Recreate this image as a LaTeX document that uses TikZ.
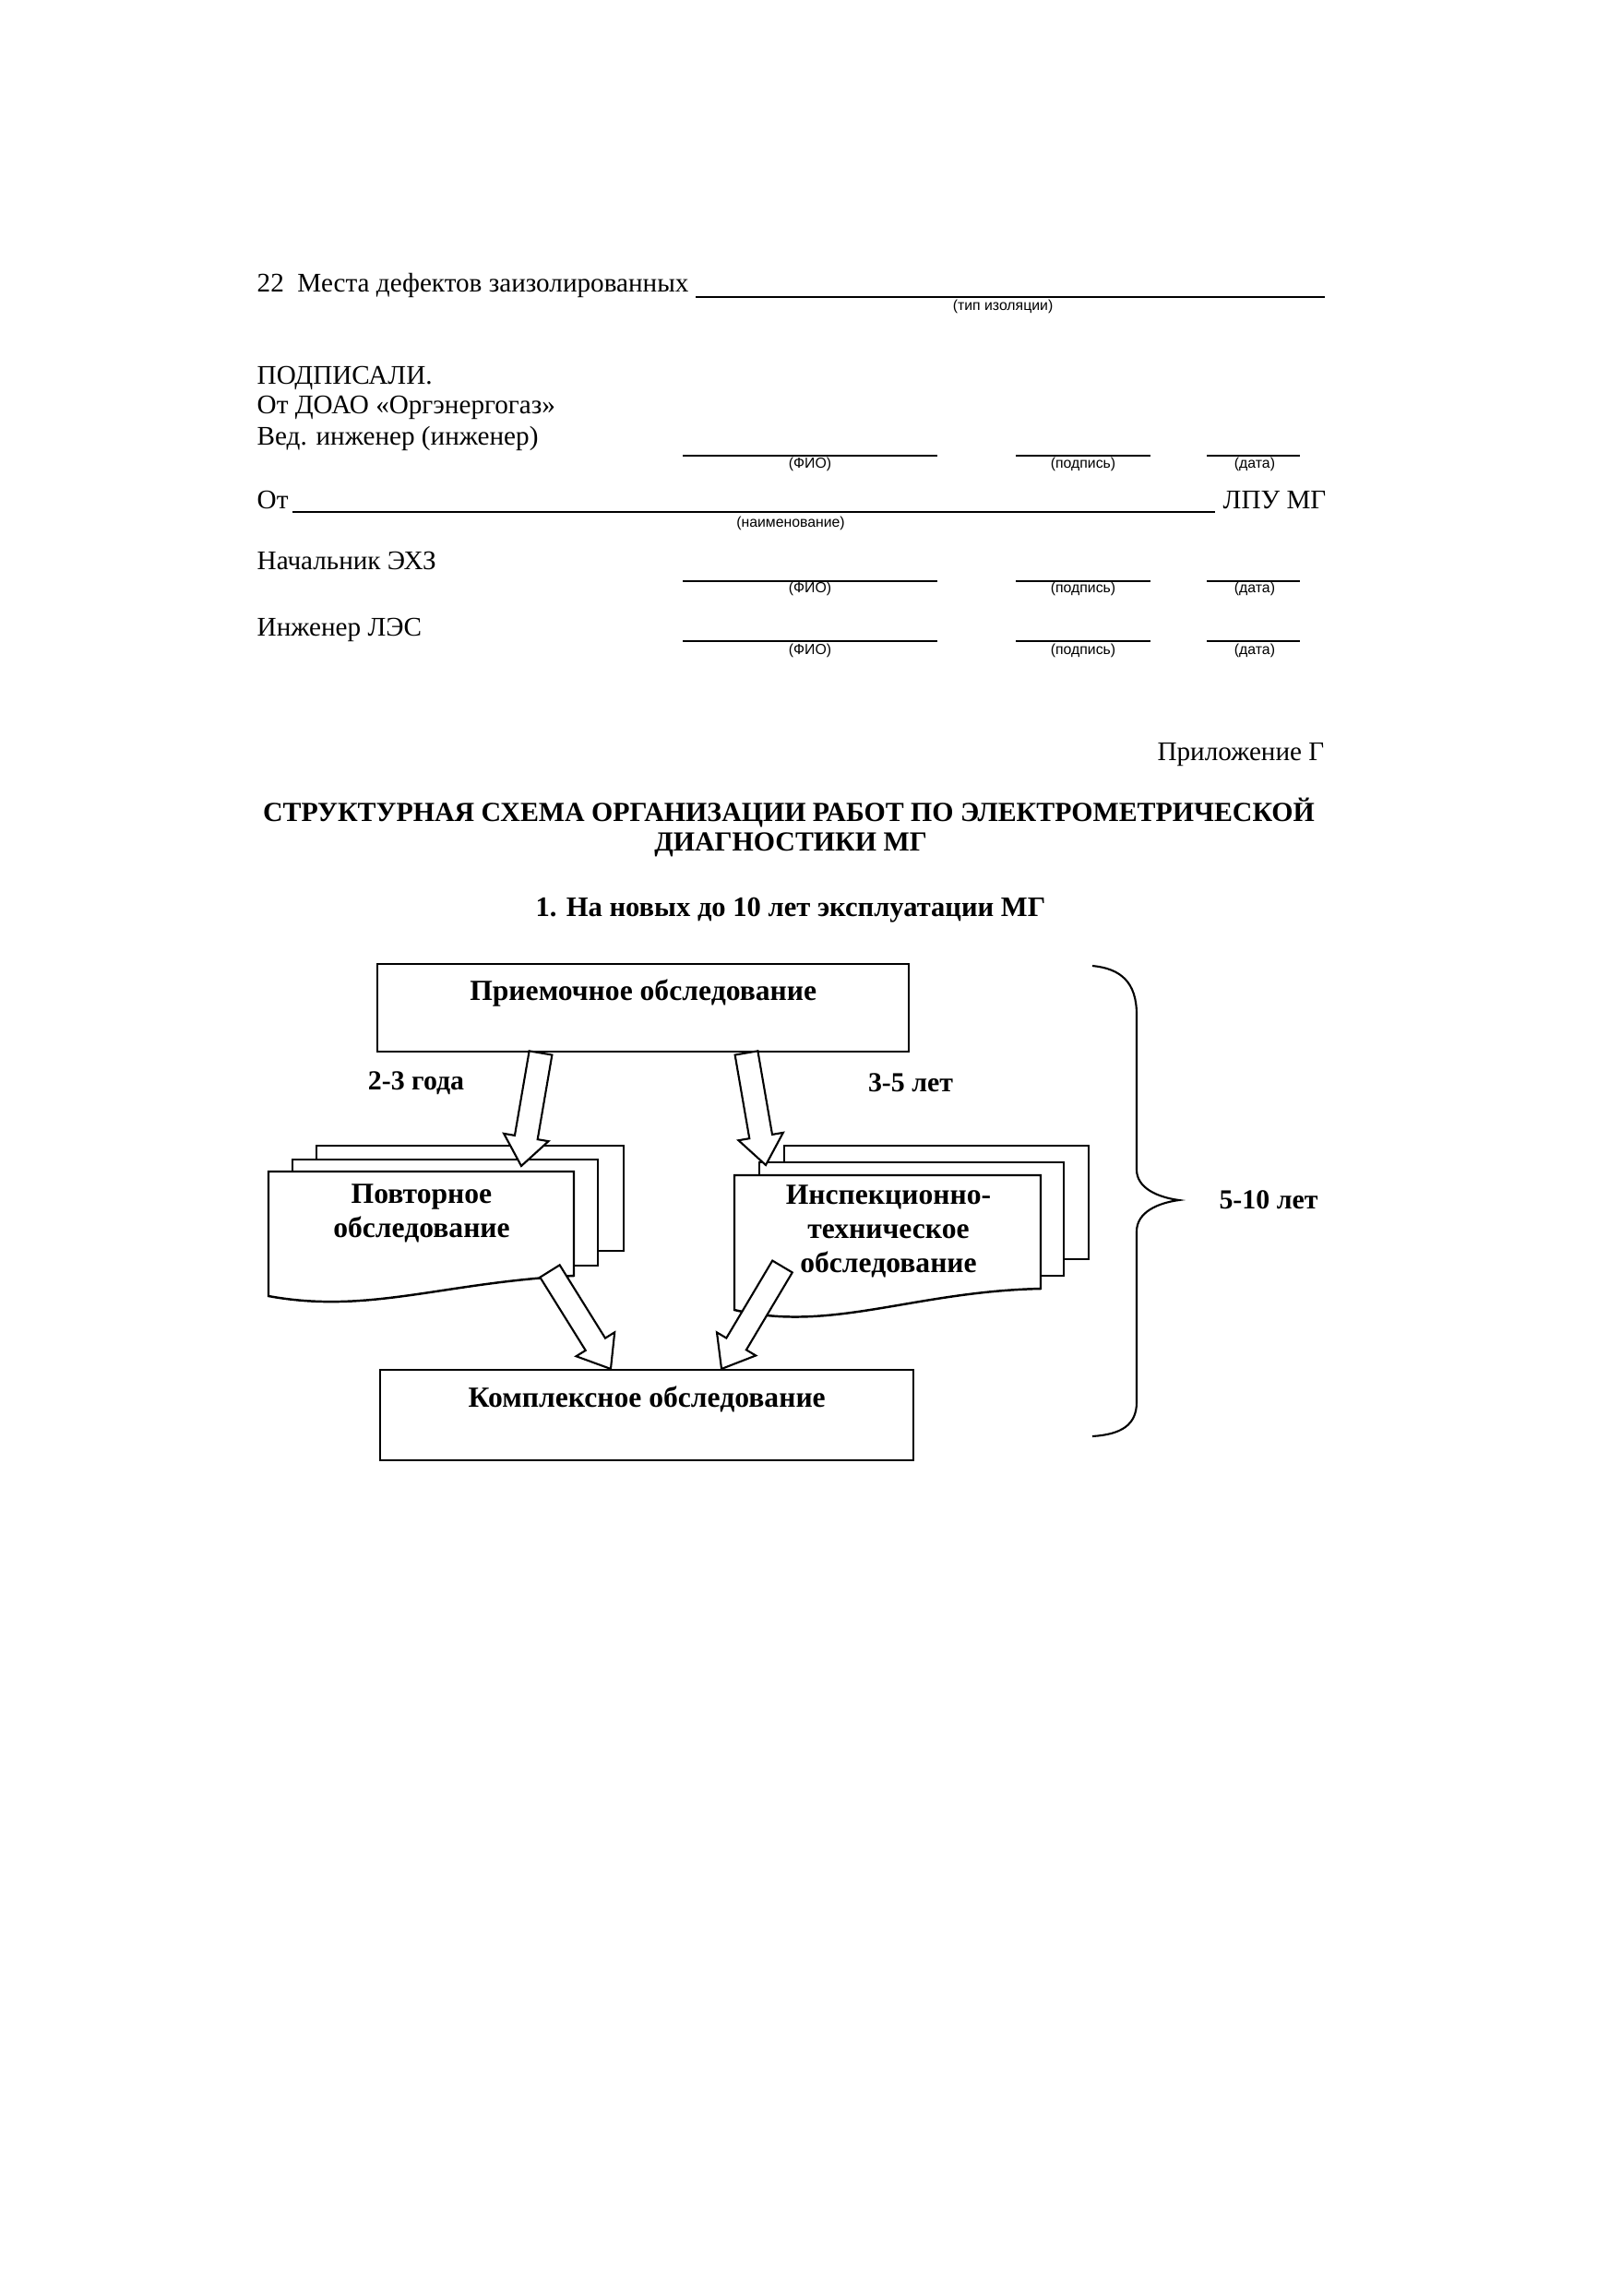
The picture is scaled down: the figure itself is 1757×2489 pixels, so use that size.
\documentclass[tikz,border=0pt]{standalone}
\usepackage{fontspec}
\setmainfont{Liberation Serif}
\setsansfont{Liberation Sans}
\usetikzlibrary{calc,shapes.arrows}

\newcommand*{\blockarrow}[3]{%
	\path let \p1=(#2), \p2=(#3),
		\n1={atan2(\y2-\y1,\x2-\x1)},
		\n2={veclen(\x2-\x1,\y2-\y1)}
	in node[fatarrow,minimum height=\n2,rotate=\n1,anchor=tail] (#1) at (\p1) {};%
}

\begin{document}
\begin{tikzpicture}
[
	x=0.1mm, y=-0.1mm,
	txt/.style={anchor=base west,inner sep=0pt,font=\fontsize{8.3}{10}\selectfont},
	tiny/.style={inner sep=0pt,font=\sffamily\fontsize{4.5}{5}\selectfont},
	head/.style={anchor=base,inner sep=0pt,font=\bfseries\fontsize{8.5}{10}\selectfont},
	bigbox/.style={draw,line width=0.7pt,fill=white,inner sep=0pt,anchor=north west,font=\bfseries\fontsize{9}{10}\selectfont},
	doc/.style={draw,line width=0.7pt,fill=white},
	doctext/.style={align=center,inner sep=0pt,font=\bfseries\fontsize{9}{10.5}\selectfont},
	fatarrow/.style={single arrow,draw,fill=white,line width=0.6pt,inner xsep=0pt,inner ysep=1.15mm,outer sep=0pt,single arrow head extend=1.2mm,single arrow tip angle=76},
	sig/.style={line width=0.5pt}
]

	% page
	\path[fill=white] (0,0) rectangle (1757,2489);

	% item 22
	\node[txt] (item) at (278,316) {22\enspace Места дефектов заизолированных};
	\draw[sig] (754,322) -- (1436,322);
	\node[tiny] (insul) at (1087,332) {(тип изоляции)};

	% signatures
	\node[txt] (signed) at (278,416) {ПОДПИСАЛИ.};
	\node[txt] (org) at (278,448) {От ДОАО «Оргэнергогаз»};
	\node[txt] (eng) at (278,482) {Вед. инженер (инженер)};
	\draw[sig] (740,494) -- (1016,494);
	\draw[sig] (1101,494) -- (1247,494);
	\draw[sig] (1308,494) -- (1409,494);
	\node[tiny] (fio1) at (878,503) {(ФИО)};
	\node[tiny] (sign1) at (1174,503) {(подпись)};
	\node[tiny] (date1) at (1360,503) {(дата)};

	\node[txt] (from) at (278,551) {От};
	\draw[sig] (317,555) -- (1317,555);
	\node[txt] (lpu) at (1325,551) {ЛПУ МГ};
	\node[tiny] (name) at (857,567) {(наименование)};

	\node[txt] (chief) at (278,617) {Начальник ЭХЗ};
	\draw[sig] (740,630) -- (1016,630);
	\draw[sig] (1101,630) -- (1247,630);
	\draw[sig] (1308,630) -- (1409,630);
	\node[tiny] (fio2) at (878,638) {(ФИО)};
	\node[tiny] (sign2) at (1174,638) {(подпись)};
	\node[tiny] (date2) at (1360,638) {(дата)};

	\node[txt] (les) at (278,689) {Инженер ЛЭС};
	\draw[sig] (740,695) -- (1016,695);
	\draw[sig] (1101,695) -- (1247,695);
	\draw[sig] (1308,695) -- (1409,695);
	\node[tiny] (fio3) at (878,705) {(ФИО)};
	\node[tiny] (sign3) at (1174,705) {(подпись)};
	\node[tiny] (date3) at (1360,705) {(дата)};

	% appendix heading
	\node[txt,anchor=base east] (app) at (1436,824) {Приложение Г};
	\node[head] (title1) at (855,890) {СТРУКТУРНАЯ СХЕМА ОРГАНИЗАЦИИ РАБОТ ПО ЭЛЕКТРОМЕТРИЧЕСКОЙ};
	\node[head] (title2) at (857,922) {ДИАГНОСТИКИ МГ};
	\node[head,font=\bfseries\fontsize{8.7}{10}\selectfont] (sub) at (857,993) {1. На новых до 10 лет эксплуатации МГ};

	% boxes
	\node[bigbox,minimum width=57.6mm,text height=3.9mm,text depth=5.6mm] (accept) at (408,1044) {Приемочное обследование};
	\node[bigbox,minimum width=57.8mm,text height=4mm,text depth=5.8mm] (complex) at (411,1484) {Комплексное обследование};

	% stacked documents
	\draw[doc] (343,1242) rectangle (676,1356);
	\draw[doc] (317,1257) rectangle (648,1372);
	\draw[doc] (291,1270) -- (622,1270) -- (622,1383) .. controls (480,1390) and (400,1425) .. (291,1405) -- cycle;
	\node[doctext] (repeat) at (457,1315) {Повторное\\обследование};

	\draw[doc] (850,1242) rectangle (1180,1365);
	\draw[doc] (823,1260) rectangle (1153,1383);
	\draw[doc] (796,1274) -- (1128,1274) -- (1128,1397) .. controls (990,1400) and (900,1445) .. (796,1420) -- cycle;
	\node[doctext] (inspect) at (963,1335) {Инспекционно-\\техническое\\обследование};

	% arrows
	\coordinate (a1s) at (accept.south -| 586,0);
	\coordinate (a1e) at (565,1264);
	\coordinate (a2s) at (accept.south -| 809,0);
	\coordinate (a2e) at (830,1263);
	\coordinate (a3s) at (596,1378);
	\coordinate (a3e) at (complex.north -| 662,0);
	\coordinate (a4s) at (848,1373);
	\coordinate (a4e) at (complex.north -| 782,0);
	\blockarrow{arr1}{a1s}{a1e}
	\blockarrow{arr2}{a2s}{a2e}
	\blockarrow{arr3}{a3s}{a3e}
	\blockarrow{arr4}{a4s}{a4e}

	\node[head,anchor=center] (first) at (451,1174) {2-3 года};
	\node[head,anchor=center] (second) at (987,1174) {3-5 лет};

	% brace
	\draw[line width=0.6pt] (1184,1047) .. controls (1215,1050) and (1232,1065) .. (1232,1100) -- (1232,1268)
		.. controls (1232,1288) and (1255,1298) .. (1278,1301)
		.. controls (1255,1304) and (1232,1314) .. (1232,1335) -- (1232,1520)
		.. controls (1232,1545) and (1215,1555) .. (1184,1557);
	\node[head,anchor=center] (span) at (1375,1301) {5-10 лет};

\end{tikzpicture}
\end{document}
